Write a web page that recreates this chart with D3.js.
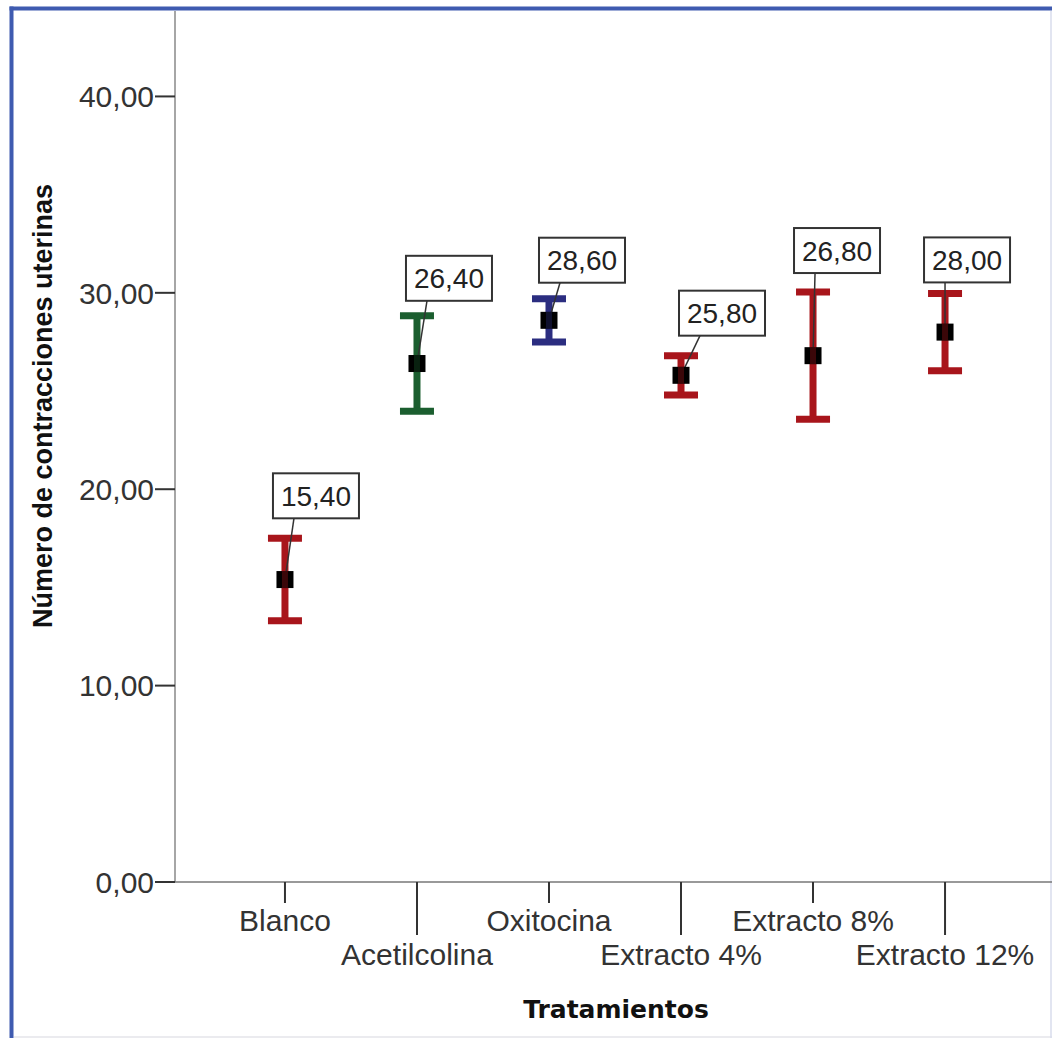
<!DOCTYPE html>
<html>
<head>
<meta charset="utf-8">
<script src="https://cdn.jsdelivr.net/npm/d3@7"></script>
<style>
  body { margin: 0; background: #fff; }
  svg { display: block; }
</style>
</head>
<body>
<svg id="chart"></svg>
<script>
// data (means and error bar ends)
var categories = ['Blanco', 'Acetilcolina', 'Oxitocina', 'Extracto 4%', 'Extracto 8%', 'Extracto 12%'];
var means = [15.40, 26.40, 28.60, 25.80, 26.80, 28.00];
var lower = [13.30, 23.97, 27.50, 24.80, 23.56, 26.03];
var upper = [17.50, 28.83, 29.70, 26.80, 30.04, 29.97];
var barColors = ['#a8151b', '#1b5e2f', '#2b2d80', '#a8151b', '#a8151b', '#a8151b'];
var yTicks = [0, 10, 20, 30, 40];

// label box nudges (how SPSS placed them)
var labelDx = [-12, -11, -10, -2, -19, -21];
var labelGap = [20, 15, 16, 20, 19, 11];

var W = 1052, H = 1038;
var svg = d3.select('#chart').attr('width', W).attr('height', H);

// frame: blue on top and left, faint on the other sides
svg.append('line')
    .attr('x1', 14).attr('x2', W).attr('y1', 1037).attr('y2', 1037)
    .attr('stroke', '#e4e4ea').attr('stroke-width', 1.5);
svg.append('line')
    .attr('x1', W - 1).attr('x2', W - 1).attr('y1', 11).attr('y2', H)
    .attr('stroke', '#d8dcec').attr('stroke-width', 1.5);
svg.append('line')
    .attr('x1', 9.5).attr('x2', W).attr('y1', 8.5).attr('y2', 8.5)
    .attr('stroke', '#3f5bb0').attr('stroke-width', 4);
svg.append('line')
    .attr('x1', 11.5).attr('x2', 11.5).attr('y1', 6.5).attr('y2', H)
    .attr('stroke', '#3f5bb0').attr('stroke-width', 4);

var x0 = 175, y0 = 882;

var x = d3.scalePoint()
    .domain(categories)
    .range([x0, 1055])
    .padding(0.833);

var y = d3.scaleLinear()
    .domain([0, 44.35])
    .range([y0, 11]);

var fmt = function(v) { return d3.format('.2f')(v).replace('.', ','); };

// y axis
svg.append('line')
    .attr('x1', x0).attr('x2', x0).attr('y1', 11).attr('y2', y0)
    .attr('stroke', '#888').attr('stroke-width', 1.5);

var yt = svg.selectAll('.ytick').data(yTicks).enter().append('g')
    .attr('class', 'ytick')
    .attr('transform', function(d) { return 'translate(0,' + y(d) + ')'; });
yt.append('line')
    .attr('x1', 155).attr('x2', x0)
    .attr('stroke', '#333').attr('stroke-width', 2);
yt.append('text')
    .attr('x', 154).attr('dy', '0.36em')
    .attr('text-anchor', 'end')
    .style('font-family', 'Liberation Sans, Arial, sans-serif')
    .style('font-size', '30px')
    .style('fill', '#333')
    .text(fmt);

svg.append('text')
    .attr('transform', 'translate(52,' + 406 + ') rotate(-90)')
    .attr('text-anchor', 'middle')
    .style('font-family', 'Liberation Sans, Arial, sans-serif')
    .style('font-weight', 'bold')
    .style('font-size', '27px')
    .style('fill', '#111')
    .text('Número de contracciones uterinas');

// x axis
svg.append('line')
    .attr('x1', x0).attr('x2', W).attr('y1', y0).attr('y2', y0)
    .attr('stroke', '#777').attr('stroke-width', 1.5);

var xt = svg.selectAll('.xtick').data(categories).enter().append('g')
    .attr('class', 'xtick')
    .attr('transform', function(d) { return 'translate(' + x(d) + ',0)'; });
xt.append('line')
    .attr('y1', y0)
    .attr('y2', function(d, i) { return i % 2 ? 935 : 903; })
    .attr('stroke', '#333').attr('stroke-width', 2);
xt.append('text')
    .attr('y', function(d, i) { return i % 2 ? 965 : 931; })
    .attr('text-anchor', 'middle')
    .style('font-family', 'Liberation Sans, Arial, sans-serif')
    .style('font-size', '30px')
    .style('fill', '#333')
    .text(function(d) { return d; });

svg.append('text')
    .attr('x', 616).attr('y', 1018)
    .attr('text-anchor', 'middle')
    .style('font-family', 'DejaVu Sans, Verdana, sans-serif')
    .style('font-weight', 'bold')
    .style('font-size', '25px')
    .style('fill', '#111')
    .text('Tratamientos');

// error bars
var bars = svg.selectAll('.bar').data(categories).enter().append('g')
    .attr('class', 'bar');

bars.append('line')
    .attr('x1', function(d) { return x(d); })
    .attr('x2', function(d) { return x(d); })
    .attr('y1', function(d, i) { return y(lower[i]); })
    .attr('y2', function(d, i) { return y(upper[i]); })
    .attr('stroke', function(d, i) { return barColors[i]; })
    .attr('stroke-width', 7);

[lower, upper].forEach(function(arr) {
    bars.append('line')
        .attr('x1', function(d) { return x(d) - 17; })
        .attr('x2', function(d) { return x(d) + 17; })
        .attr('y1', function(d, i) { return y(arr[i]); })
        .attr('y2', function(d, i) { return y(arr[i]); })
        .attr('stroke', function(d, i) { return barColors[i]; })
        .attr('stroke-width', 7);
});

// value labels with leader lines
var lab = svg.selectAll('.lab').data(categories).enter().append('g')
    .attr('class', 'lab');

lab.append('line')
    .attr('x1', function(d, i) { return x(d) + labelDx[i] + 21; })
    .attr('y1', function(d, i) { return y(upper[i]) - labelGap[i]; })
    .attr('x2', function(d) { return x(d); })
    .attr('y2', function(d, i) { return y(means[i]); })
    .attr('stroke', '#333').attr('stroke-width', 1.5);

lab.append('rect')
    .attr('x', function(d, i) { return x(d) + labelDx[i]; })
    .attr('y', function(d, i) { return y(upper[i]) - labelGap[i] - 45; })
    .attr('width', 86).attr('height', 45)
    .attr('fill', '#fff')
    .attr('stroke', '#333').attr('stroke-width', 2);

lab.append('text')
    .attr('x', function(d, i) { return x(d) + labelDx[i] + 43; })
    .attr('y', function(d, i) { return y(upper[i]) - labelGap[i] - 22.5; })
    .attr('dy', '0.36em')
    .attr('text-anchor', 'middle')
    .style('font-family', 'Liberation Sans, Arial, sans-serif')
    .style('font-size', '28px')
    .style('fill', '#222')
    .text(function(d, i) { return fmt(means[i]); });

// mean markers
var mk = svg.selectAll('.mk').data(categories).enter().append('g')
    .attr('class', 'mk');
mk.append('rect')
    .attr('x', function(d) { return x(d) - 8.5; })
    .attr('y', function(d, i) { return y(means[i]) - 8.5; })
    .attr('width', 17).attr('height', 17)
    .attr('fill', '#000');
mk.append('rect')
    .attr('x', function(d) { return x(d) - 3; })
    .attr('y', function(d, i) { return y(means[i]) - 8.5; })
    .attr('width', 6).attr('height', 17)
    .attr('fill', function(d, i) { return barColors[i]; })
    .attr('opacity', 0.35);
</script>
</body>
</html>
